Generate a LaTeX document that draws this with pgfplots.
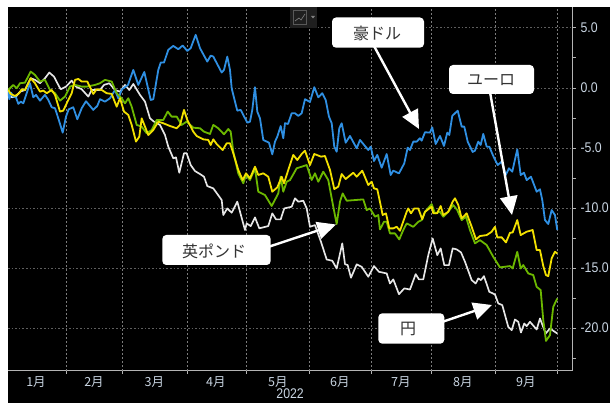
\documentclass[border=0pt]{standalone}
\usepackage{fontspec}
\usepackage{pgfplots}
\pgfplotsset{compat=1.18}
\usetikzlibrary{arrows.meta}
\setmainfont{Liberation Sans}
\newfontfamily\cjk{Noto Sans CJK JP}
\definecolor{audline}{HTML}{2F8FE2}
\definecolor{gbpline}{HTML}{6CB800}
\definecolor{eurline}{HTML}{F2E000}
\definecolor{jpyline}{HTML}{E6E6E6}
\definecolor{ticktext}{HTML}{C9D5E2}
\definecolor{axisgray}{HTML}{B4B4B4}
\definecolor{gridgray}{HTML}{5E5E5E}
\definecolor{monthgrid}{HTML}{7C7C7C}

% AUD against the dollar, percent change since the start of 2022
\pgfplotstableread{
x v
8 -0.17
9.3 -0.94
11 -0.39
13.3 -0.72
16 -0.78
18.3 -1.33
20.7 -1.14
23.3 -1.28
26.7 -0.44
30 0.39
33.3 -0.78
36 -0.58
40 -1.06
45 -0.58
48.3 -1.0
51.7 -1.61
55 -1.69
58.3 -2.53
62.7 -3.72
66 -2.39
68.7 -1.78
73.3 -1.61
77.3 -2.61
81.7 -1.69
86 -1.11
90 -1.5
93.3 -1.83
97.3 -1.5
100 -0.94
105 -1.14
110 -0.86
115 -0.17
118.3 -0.86
122 -0.11
128 0.25
133.3 1.5
138.3 0.25
144.3 1.33
150.7 -1.0
153.3 -0.94
158.3 1.5
160.7 2.11
164 2.11
168.3 3.17
173.3 3.5
178.3 3.22
182.7 3.53
187.3 3.08
190.7 3.31
195.7 4.42
200 3.31
207.3 2.19
210.7 2.69
213.3 2.61
221.7 1.28
224 1.5
227.3 2.61
230 1.5
231.7 -0.03
235 -1.14
237.3 -1.89
240.7 -1.83
247.3 -2.89
250 -2.81
252.3 -1.83
255 0.06
257.3 -1.97
260 -2.53
263.3 -4.33
269 -4.56
272.3 -5.53
275 -4.47
277.3 -4.06
280.7 -3.17
283.3 -4.19
285 -2.94
288 -3.0
291.7 -2.11
295 -2.11
298.3 -2.33
301.7 -2.11
305 -0.94
310 -1.17
314.3 0.06
318.3 -0.78
322.3 -0.44
325.7 -1.0
329 -2.39
331.7 -2.94
334.3 -4.89
336.7 -5.31
339.3 -3.36
341.7 -2.94
345.7 -4.56
350 -4.0
356.7 -5.03
360 -4.33
368.3 -5.17
370.7 -4.89
374 -6.08
377.3 -5.58
381.7 -6.64
386.7 -5.5
390.7 -7.25
393.3 -6.89
399 -7.11
404.3 -6.28
407.7 -4.97
410 -5.17
413.3 -4.47
416.7 -4.47
420 -4.19
421.7 -4.39
425 -3.69
430 -3.72
432.3 -3.28
435.7 -4.67
440 -4.0
444 -4.83
447.3 -3.72
449.3 -3.92
452.3 -2.33
457.7 -1.89
461.7 -3.22
464.3 -3.22
467.7 -4.47
472.7 -5.33
475 -5.22
478.3 -4.47
480.7 -4.75
483.3 -3.83
486.7 -4.89
489.3 -4.89
493.3 -5.67
497.7 -6.42
501.7 -6.14
505.7 -7.25
509 -6.69
512.3 -6.97
517.3 -5.11
520.7 -7.25
524 -7.06
526.7 -7.67
531 -7.39
536.7 -8.64
540 -8.44
542.3 -9.33
545 -11.0
548.3 -11.33
551.7 -10.17
555 -10.58
557.3 -11.83
}\audtable

% GBP
\pgfplotstableread{
x v
8.3 -0.17
13.3 0.25
16.7 -0.03
20 0.39
25 0.44
30.7 1.36
35 1.08
40 0.53
45 0.67
50 -0.17
55 -0.44
60 -1.06
65 -0.72
70 0.11
75 0.25
81.7 0.11
86.7 0.11
95 0.25
100 0.39
105 0.67
111.7 0.53
116.7 -0.44
121.7 -0.86
125 -1.28
128.3 -0.86
131.7 -1.56
136.7 -3.08
141.7 -3.22
146.7 -3.78
151.7 -3.5
156.7 -2.67
163.3 -2.67
167.7 -1.97
171.7 -2.39
176.7 -2.39
181.7 -3.08
186.7 -2.8
193.3 -3.31
200 -3.36
204 -3.64
210 -3.83
213.3 -3.08
218.3 -3.36
224 -3.86
228.3 -3.42
230.7 -3.64
233.3 -5.31
238.3 -7.11
243.3 -7.94
246 -7.25
250 -7.67
255 -6.69
258.3 -8.64
265 -8.92
271.7 -9.83
278.3 -8.78
280.7 -7.39
283.3 -8.64
286.7 -7.81
290 -7.67
296.7 -6.69
306.7 -6.42
311.7 -7.67
315 -7.11
318.3 -7.81
323.3 -6.97
328.3 -7.67
333.3 -9.89
336.7 -11.33
340 -9.47
342.7 -8.78
346.7 -9.39
363.3 -9.28
366.7 -10.17
370 -10.03
375 -10.72
378.3 -10.58
380 -11.78
384 -11.14
386.7 -11.14
390 -12.11
395 -12.11
399.3 -12.61
403.3 -11.83
406.7 -11.28
413.3 -11.56
418.3 -11.14
421.7 -11.0
425 -10.31
431.7 -9.67
435 -10.44
440 -10.31
443.3 -10.72
448.3 -10.31
453.3 -9.75
457.3 -10.17
461.7 -11.0
466 -10.72
470 -11.83
475 -12.94
480 -12.67
486.7 -13.08
493.3 -14.06
500 -14.94
510 -14.83
512.7 -15.03
517.3 -13.64
520.7 -15.03
523.3 -14.75
528.3 -15.44
533.3 -15.58
536.7 -16.56
540.7 -16.83
543.3 -19.33
546 -21.06
550 -20.58
553.3 -18.22
557.3 -17.53
}\gbptable

% EUR
\pgfplotstableread{
x v
8.3 -0.17
10.7 -0.5
15 -0.67
19.3 -0.44
21.7 -0.11
25 -0.17
30.7 0.81
35 0.39
40 -0.31
43.3 -0.22
46.7 -0.44
51.7 -0.17
55 -0.58
60 -1.97
63.3 -1.89
68.3 -1.0
71.7 -0.44
75 0.67
78.3 0.75
81.7 0.53
87.3 0.53
93.3 -0.5
96.7 -0.11
101.7 -0.17
106.7 -0.44
111.7 -0.5
116.7 -1.56
120 -0.86
124 -1.97
128.3 -2.25
131.7 -3.08
136 -4.47
139.3 -4.06
141.7 -2.53
145 -3.22
148.3 -3.92
153.3 -3.5
158.3 -2.81
163.3 -2.94
170 -3.17
176.7 -3.36
180 -3.08
184 -1.83
187.3 -2.67
193.3 -3.64
196.7 -4.0
203.3 -4.28
208.3 -4.33
210.7 -4.75
213.3 -4.28
216.7 -4.67
222.7 -5.17
226.7 -4.61
230 -4.61
233.3 -5.44
238.3 -6.83
242.7 -7.67
246 -7.11
250 -7.53
255 -6.56
258.3 -7.25
263.3 -7.11
268.3 -7.39
272.3 -8.64
277.3 -8.28
281.7 -7.39
284 -7.94
288.3 -6.83
293.3 -5.58
297.3 -6.0
301.7 -5.5
305 -5.22
310 -6.42
314.3 -5.5
321 -5.72
325 -5.67
330 -6.83
334.3 -8.42
338.3 -8.22
341.7 -7.17
345.7 -7.58
353.3 -7.06
356.7 -7.39
362.3 -6.89
368.3 -8.08
371.7 -7.81
374 -8.36
377.3 -8.44
380 -9.5
382.7 -10.58
386 -10.44
389.3 -11.69
393.3 -11.69
396.7 -11.56
400 -11.89
406.7 -10.31
408.3 -10.03
411 -10.44
414.3 -10.03
418.3 -10.03
422.3 -10.94
425 -10.31
431.7 -9.89
433.3 -10.44
437 -10.44
440.7 -9.83
443.3 -10.58
448.3 -10.31
452.7 -9.47
455 -9.19
458.3 -9.75
461.7 -10.86
466.7 -10.44
471.7 -11.56
476 -12.61
480 -12.33
486.7 -12.25
491.7 -11.97
495 -11.56
497.3 -12.44
501.7 -12.44
506 -12.86
510 -12.06
512.7 -12.03
517.3 -11.0
520.7 -12.25
526.7 -11.97
532.7 -11.83
536.7 -13.5
540 -13.5
543.3 -14.83
546 -15.58
548.3 -15.67
551.7 -14.19
555 -13.64
557.3 -13.78
}\eurtable

% JPY
\pgfplotstableread{
x v
8.3 -0.44
11.7 -0.78
16 -0.72
20 -0.31
25 -0.17
30.7 0.81
35 0.67
40 0.39
45 0.81
49.3 1.28
54 0.94
58.3 0.25
60.7 -0.11
66 0.11
71.7 0.61
76 0.11
81.7 -0.11
88.3 -0.72
91.7 -0.17
100 -0.17
104 0.25
109.3 0.39
115 -0.17
120 -0.31
125 0.25
129.3 -0.17
133.3 0.33
140 -0.58
145 -1.14
150 -2.53
154 -2.81
160 -3.08
165 -3.92
168.3 -4.89
173.3 -5.86
176 -5.78
179.3 -7.06
184 -5.44
186.7 -5.44
190.7 -6.42
195 -6.92
200 -7.17
204 -7.39
207.3 -8.17
213.3 -8.36
221.7 -9.33
223.3 -10.58
227.3 -10.03
231.7 -10.39
237.3 -9.47
245 -11.83
246.7 -11.28
250.7 -11.5
255 -10.78
259.3 -11.69
268.3 -11.5
272.3 -10.44
276 -10.94
280.7 -10.94
284.3 -10.03
291.7 -9.89
295 -9.19
298.3 -9.47
303.3 -9.39
306.7 -10.03
310 -11.56
315 -11.42
321 -12.81
326.7 -14.28
332.3 -14.39
336.7 -15.03
342.3 -12.94
345 -14.67
347.7 -14.75
351 -15.8
356.7 -14.69
361.7 -14.89
368.3 -15.72
374 -14.83
379 -15.31
386.7 -15.44
390 -16.28
393.3 -15.94
399 -17.17
404.3 -16.69
410 -16.78
415.7 -15.5
419 -15.94
423.3 -15.94
428.3 -13.92
432.7 -12.53
437.3 -13.92
440.7 -13.36
444.3 -14.75
449 -14.75
452.7 -13.36
456.7 -13.44
461 -13.69
465 -14.47
471.7 -16.0
475.7 -16.28
478.3 -15.86
481 -16.0
484 -15.67
489.3 -16.97
495 -17.19
498.3 -17.94
502.3 -18.08
508.3 -19.89
511.7 -20.17
515 -19.28
518.3 -19.47
521 -20.36
524.3 -19.61
526.7 -19.83
530 -19.47
536.7 -20.11
540 -19.19
545.7 -20.44
550 -20.03
557.3 -20.44
}\jpytable

\begin{document}
\begin{tikzpicture}
  \useasboundingbox (0,0) rectangle (457.5pt,302.25pt);
  \clip (0,0) rectangle (457.5pt,302.25pt);
  \fill[white] (0,0) rectangle (457.5pt,302.25pt);
  \fill[black] (6pt,0pt) rectangle (457.5pt,297pt);
  \begin{axis}[
    at={(6pt,24.225pt)}, anchor=south west,
    scale only axis, width=423.2pt, height=272.8pt,
    xmin=8, xmax=572.3, ymin=-23.54, ymax=6.74,
    axis x line*=bottom, axis y line*=right,
    axis line style={-, draw=axisgray, line width=0.9pt},
    clip mode=individual,
    % month boundaries carry the ticks; month names sit between them
    xtick={66.5,122.5,187.5,246.5,309.5,371.5,431.5,495.5,557.5},
    xticklabels={},
    extra x ticks={36,94,154.5,216,278,340,401,463,526},
    extra x tick labels={1月,2月,3月,4月,5月,6月,7月,8月,9月},
    extra x tick style={xtick style={draw=none}},
    xtick style={draw=axisgray, line width=0.6pt},
    x tick label style={font=\cjk\fontsize{9.4pt}{10pt}\selectfont, text=ticktext, yshift=1.5pt},
    xlabel={\scalebox{.88}[1]{2022}},
    xlabel style={font=\fontsize{10.5pt}{11pt}\selectfont, text=ticktext, yshift=8.4pt},
    ytick={5,0,-5,-10,-15,-20},
    minor ytick={2.5,-2.5,-7.5,-12.5,-17.5,-22.5},
    ymajorgrids=true,
    tick align=outside,
    major tick length=2.5pt, minor tick length=2.5pt,
    ytick style={draw=axisgray, line width=0.6pt},
    grid style={draw=gridgray, line width=0.6pt, dash pattern=on 1.2pt off 1.5pt},
    yticklabel pos=right,
    yticklabel={\scalebox{.88}[1]{\pgfmathprintnumber[fixed,fixed zerofill,precision=1,assume math mode=true]{\tick}}},
    y tick label style={font=\fontsize{10.5pt}{11pt}\selectfont, text=ticktext, anchor=west, xshift=0.2pt},
  ]
    % vertical grid at the month boundaries
    \pgfplotsinvokeforeach{66.5,122.5,187.5,246.5,309.5,371.5,431.5,495.5,557.5}{
      \draw[monthgrid, line width=0.75pt, dash pattern=on 1.5pt off 1.5pt]
        (axis cs:#1,-23.54) -- (axis cs:#1,6.74);
    }
    \addplot[jpyline, line width=1.25pt, line join=round] table[x=x,y=v] {\jpytable};
    \addplot[audline, line width=1.35pt, line join=round] table[x=x,y=v] {\audtable};
    \addplot[gbpline, line width=1.35pt, line join=round] table[x=x,y=v] {\gbptable};
    \addplot[eurline, line width=1.35pt, line join=round] table[x=x,y=v] {\eurtable};
    % pointers on the value axis at each labelled tick
    \addplot[only marks, mark=triangle*, mark size=2pt, clip mode=individual,
      mark options={rotate=-90, draw=white, fill=white}]
      coordinates {(575,5) (575,0) (575,-5) (575,-10) (575,-15) (575,-20)};
  \end{axis}

  % overlays placed in image-pixel units, origin at the top left
  \begin{scope}[x=0.75pt, y=-0.75pt, shift={(0pt,302.25pt)}]
    % chart-type button
    \fill[black!88!white] (290,7) rectangle (317,28);
    \draw[gray!70!black, line width=0.5pt] (293.5,10) rectangle (306,24.5);
    \draw[gray, line width=0.5pt] (295,21) -- (299,18) -- (301,20) -- (305,14);
    \fill[gray] (311,16) -- (315,16) -- (313,18.5) -- cycle;

    \tikzset{callout/.style={draw=none, fill=white, rounded corners=3pt},
             pointer/.style={draw=white, line width=1.8pt,
               -{Triangle[length=14pt, width=13pt, fill=white]}},
             calltext/.style={font=\cjk\fontsize{12pt}{13pt}\selectfont, text=black!80}}

    \draw[pointer] (374,46) -- (419,129);
    \draw[pointer] (490,92) -- (512,215);
    \draw[pointer] (268,247) -- (336,224.5);
    \draw[pointer] (442,322) -- (492,305);

    \fill[callout] (332,17.5) rectangle (424,47.7);
    \node[calltext] at (377,33) {豪ドル};
    \fill[callout] (449,65) rectangle (534,94);
    \node[calltext] at (491,80) {ユーロ};
    \fill[callout] (162.3,235) rectangle (270.7,265);
    \node[calltext] at (214,251) {英ポンド};
    \fill[callout] (378.3,313.3) rectangle (444.3,343.7);
    \node[calltext] at (408,329) {円};
  \end{scope}
\end{tikzpicture}
\end{document}
